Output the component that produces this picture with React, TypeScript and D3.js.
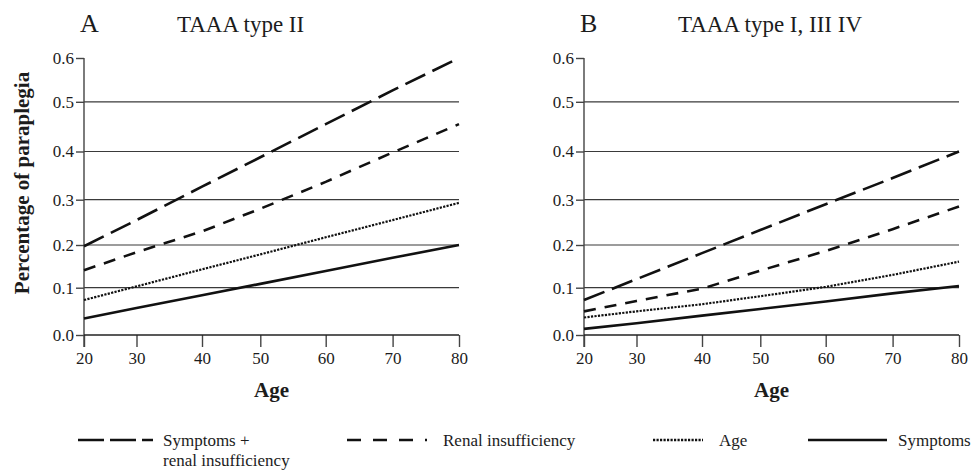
import React, { useEffect, useRef } from "react";
import { select, scaleLinear, line, axisLeft, axisBottom, format } from "d3";

// x positions are ages, y values are probability of paraplegia
const ages = [20, 30, 40, 50, 60, 70, 80];
const yTicks = [0, 0.1, 0.2, 0.3, 0.4, 0.5, 0.6];

// panel A - TAAA type II
const symptomsRenalA = [0.197, 0.255, 0.327, 0.388, 0.455, 0.526, 0.6];
const renalA = [0.141, 0.183, 0.23, 0.28, 0.337, 0.398, 0.455];
const ageA = [0.074, 0.103, 0.143, 0.178, 0.217, 0.255, 0.293];
const symptomsA = [0.035, 0.057, 0.084, 0.109, 0.139, 0.17, 0.2];

// panel B - TAAA type I, III IV
const symptomsRenalB = [0.074, 0.12, 0.181, 0.233, 0.29, 0.345, 0.4];
const renalB = [0.05, 0.072, 0.098, 0.14, 0.186, 0.235, 0.285];
const ageB = [0.037, 0.05, 0.065, 0.082, 0.102, 0.13, 0.161];
const symptomsB = [0.013, 0.025, 0.041, 0.055, 0.071, 0.088, 0.104];

const legendLabels = [["Symptoms +", "renal insufficiency"], ["Renal insufficiency"], ["Age"], ["Symptoms"]];

// the scanned axes are not evenly spaced, so ticks sit where the figure put them
const xTickPx = [0, 52.5, 118, 176.3, 241.7, 308.6, 375];
const yTickPx = [277, 229.7, 187, 141.7, 93.5, 43.8, 0];

const styles = [
  { dash: "22 8", width: 2.6 },
  { dash: "12 9", width: 2.6 },
  { dash: "2.2 1.3", width: 2.2 },
  { dash: null, width: 2.6 },
];
const legendDash = ["26 6", "14 12", "2.2 1.3", null];

const FONT = "'Liberation Serif', 'Times New Roman', Times, serif";
const INK = "#1c1c1c";

const panels = [
  { letter: "A", title: "TAAA type II", left: 84, titleX: 177, series: [symptomsRenalA, renalA, ageA, symptomsA] },
  { letter: "B", title: "TAAA type I, III IV", left: 584, titleX: 678, series: [symptomsRenalB, renalB, ageB, symptomsB] },
];

const TOP = 58;

const App = () => {
  const ref = useRef<SVGSVGElement>(null);

  useEffect(() => {
    const svg = select(ref.current);
    svg.selectAll("*").remove();

    const txt = (parent: any, x: number, y: number, size: number, s: string) =>
      parent
        .append("text")
        .attr("x", x)
        .attr("y", y)
        .style("font-family", FONT)
        .style("font-size", `${size}px`)
        .attr("fill", INK)
        .text(s);

    panels.forEach((p) => {
      const x = scaleLinear().domain(ages).range(xTickPx.map((d) => p.left + d));
      const y = scaleLinear().domain(yTicks).range(yTickPx.map((d) => TOP + d));
      const g = svg.append("g");

      txt(g, p.left - 4, 32, 26, p.letter);
      txt(g, p.titleX, 32, 23, p.title);

      // horizontal grid
      g.selectAll(".grid")
        .data(yTicks.filter((t) => t > 0 && t < 0.6))
        .join("line")
        .attr("x1", x(20))
        .attr("x2", x(80))
        .attr("y1", (d) => y(d))
        .attr("y2", (d) => y(d))
        .attr("stroke", "#3a3a3a")
        .attr("stroke-width", 1.2);

      const yAxis = axisLeft(y).tickValues(yTicks).tickSize(8).tickPadding(2).tickFormat(format(".1f"));
      const ya = g.append("g").attr("transform", `translate(${x(20)},0)`).call(yAxis);
      ya.select(".domain").remove();

      const xAxis = axisBottom(x).tickValues(ages).tickSize(12).tickPadding(5);
      const xa = g.append("g").attr("transform", `translate(0,${y(0)})`).call(xAxis);
      xa.select(".domain").remove();

      [ya, xa].forEach((a) => {
        a.selectAll("line").attr("stroke", "#444").attr("stroke-width", 1.4);
        a.selectAll("text")
          .style("font-family", FONT)
          .style("font-size", "17px")
          .attr("fill", INK);
      });

      g.append("line")
        .attr("x1", x(20)).attr("x2", x(20))
        .attr("y1", y(0.6)).attr("y2", y(0) + 12)
        .attr("stroke", "#444").attr("stroke-width", 1.4);
      g.append("line")
        .attr("x1", x(20)).attr("x2", x(80))
        .attr("y1", y(0)).attr("y2", y(0))
        .attr("stroke", "#222").attr("stroke-width", 1.4);

      txt(g, (x(20) + x(80)) / 2, 397, 21, "Age")
        .attr("text-anchor", "middle")
        .style("font-weight", "bold");

      const path = line<number>()
        .x((d, i) => x(ages[i]))
        .y((d) => y(d));

      p.series.forEach((s, i) => {
        g.append("path")
          .attr("d", path(s))
          .attr("fill", "none")
          .attr("stroke", "#111")
          .attr("stroke-width", styles[i].width)
          .attr("stroke-dasharray", styles[i].dash);
      });
    });

    txt(svg, 0, 0, 21, "Percentage of paraplegia")
      .attr("transform", "translate(29,183) rotate(-90)")
      .attr("text-anchor", "middle")
      .style("font-weight", "bold");

    // legend
    const legendX = [[78, 153, 163], [347, 427, 443], [653, 703, 719], [808, 887, 898]];
    legendLabels.forEach((lab, i) => {
      const [x1, x2, tx] = legendX[i];
      svg.append("line")
        .attr("x1", x1).attr("x2", x2)
        .attr("y1", 440).attr("y2", 440)
        .attr("stroke", "#111")
        .attr("stroke-width", 2.6)
        .attr("stroke-dasharray", legendDash[i]);
      lab.forEach((t, j) => {
        txt(svg, tx, 446 + j * 20, 17, t);
      });
    });
  }, []);

  return (
    <svg
      ref={ref}
      width={974}
      height={474}
      style={{ position: "absolute", left: 0, top: 0, background: "#fff" }}
    />
  );
};

export default App;
